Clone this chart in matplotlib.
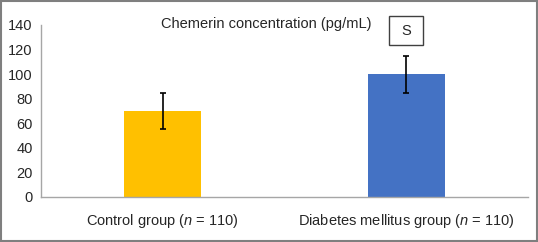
import matplotlib
matplotlib.use("Agg")
import matplotlib.pyplot as plt
from matplotlib.patches import Rectangle

categories = ["Control group ($n$ = 110)", "Diabetes mellitus group ($n$ = 110)"]
values = [70, 100]
errors = [15, 15]
colors = ["#FFC000", "#4472C4"]
yticks = [0, 20, 40, 60, 80, 100, 120, 140]
title = "Chemerin concentration (pg/mL)"
sig_label = "S"

plt.rcParams['font.family'] = ['Liberation Sans', 'DejaVu Sans']
plt.rcParams['mathtext.fontset'] = 'custom'
plt.rcParams['mathtext.rm'] = 'Liberation Sans'
plt.rcParams['mathtext.it'] = 'Liberation Sans:italic'

FS = 10.5

fig = plt.figure(figsize=(5.38, 2.42), dpi=100)
ax = fig.add_axes([41/538, 1-197/242, 487/538, 172/242])

x = list(range(len(categories)))
ax.bar(x, values, width=0.315, color=colors, zorder=2)
ax.errorbar(x, values, yerr=errors, fmt='none', ecolor='black', elinewidth=1.2,
            capsize=2.5, capthick=1.2, zorder=3)

ax.set_xlim(-0.5, 1.5)
ax.set_ylim(0, 140)
ax.set_yticks(yticks)
ax.set_xticks(x)
ax.set_xticklabels(categories, fontsize=FS, color='#262626')
ax.tick_params(axis='y', length=0, labelsize=FS, labelcolor='#262626', pad=6)
ax.tick_params(axis='x', length=0, pad=11)
for s in ['top', 'right']:
    ax.spines[s].set_visible(False)
ax.spines['left'].set_color('#a6a6a6')
ax.spines['bottom'].set_color('#a6a6a6')
ax.spines['left'].set_linewidth(1)
ax.spines['bottom'].set_linewidth(1)

fig.text(266/538, 1-24/242, title, ha='center', va='center', fontsize=FS, color='#262626')

# significance box above DM bar
bx, bw = 1, 0.14
ax.add_patch(Rectangle((bx - bw/2, 124), bw, 23.5, fill=False, edgecolor='#404040',
                       linewidth=1, clip_on=False, zorder=4))
ax.text(bx, 135.5, sig_label, ha='center', va='center', fontsize=FS, color='#262626',
        clip_on=False)

# figure border
fig.add_artist(Rectangle((0.002, 0.004), 0.996, 0.992, transform=fig.transFigure,
                         fill=False, edgecolor='#7f7f7f', linewidth=1.5))

fig.savefig("out.png", dpi=100)
